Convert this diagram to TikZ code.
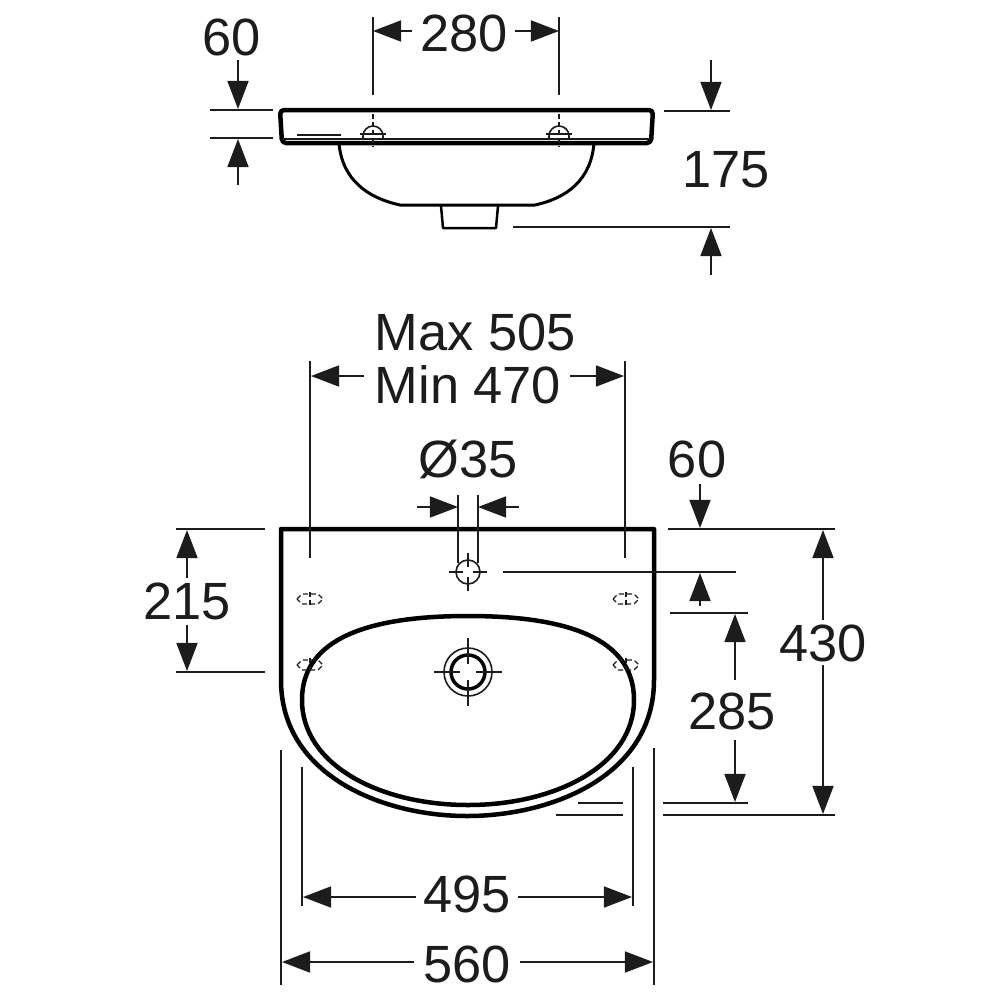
\documentclass[tikz,border=0pt]{standalone}
\usepackage{xcolor}
\usepackage{fontspec}
\setmainfont{Liberation Sans}
\usetikzlibrary{arrows.meta}
\definecolor{ink}{HTML}{1C1C1C}
\tikzset{
	>={Triangle[length=0.28cm,width=0.21cm]},
	outline/.style = {draw=black, line width=0.045cm, line join=round},
	extline/.style = {draw=ink, line width=0.016cm},
	dimline/.style = {draw=ink, line width=0.016cm, ->},
	hidden/.style = {draw=ink, line width=0.012cm, dash pattern=on 0.05cm off 0.03cm},
	dimtext/.style = {inner sep=0.05cm, text=ink, font=\fontsize{14.9}{17}\selectfont},
}
\begin{document}
\begin{tikzpicture}[x=0.01cm,y=-0.01cm]
        \useasboundingbox (0,0) rectangle (1000,1000);
        % side view
        \draw[outline, rounded corners=0.04cm] (280,110) -- (653,110) -- (651,143) -- (282,143) -- cycle;
        \draw[outline, line width=0.03cm] (339,143) .. controls (342,180) and (368,198) .. (400,205) -- (535,205) .. controls (567,198) and (591,180) .. (594,143);
        \draw[outline, line width=0.025cm] (441,206) -- (443,228) -- (496,228) -- (498,206);
        \draw[extline] (283,139) -- (650,139);
        \draw[extline] (297,135) -- (341,135);
        \draw[extline] (363,139) -- (363,136) arc (180:360:10) -- (383,139);
        \draw[extline] (549,139) -- (549,136) arc (180:360:10) -- (569,139);
        \draw[extline] (360,134) -- (386,134);
        \draw[extline] (546,134) -- (572,134);
        \draw[hidden] (373,114) -- (373,147);
        \draw[hidden] (559,114) -- (559,147);
        % side view dimensions
        \draw[extline] (373,17) -- (373,95);
        \draw[extline] (559,17) -- (559,95);
        \node[dimtext] (w280) at (464,33) {280};
        \coordinate (w280l) at (373,31);
        \coordinate (w280r) at (559,31);
        \coordinate (w280la) at (412,31);
        \coordinate (w280ra) at (515,31);
        \draw[dimline] (w280la) -- (w280l);
        \draw[dimline] (w280ra) -- (w280r);
        \draw[extline] (210,110) -- (273,110);
        \draw[extline] (210,138) -- (273,138);
        \node[dimtext] (h60) at (232,37) {60};
        \coordinate (h60a) at (238,60);
        \coordinate (h60b) at (238,109);
        \coordinate (h60c) at (238,185);
        \coordinate (h60d) at (238,139);
        \draw[dimline] (h60a) -- (h60b);
        \draw[dimline] (h60c) -- (h60d);
        \draw[extline] (664,111) -- (730,111);
        \draw[extline] (513,227) -- (730,227);
        \node[dimtext] (h175) at (726,170) {175};
        \coordinate (h175a) at (711,60);
        \coordinate (h175b) at (711,110);
        \coordinate (h175c) at (711,275);
        \coordinate (h175d) at (711,228);
        \draw[dimline] (h175a) -- (h175b);
        \draw[dimline] (h175c) -- (h175d);
        % plan view
        \draw[outline] (281,529) -- (654,529) -- (654,680) .. controls (654,775) and (553,816) .. (467,816) .. controls (382,816) and (281,775) .. (281,680) -- cycle;
        \draw[outline] (468,616) .. controls (581,616) and (634,645) .. (634,700) .. controls (634,765) and (556,805) .. (468,805) .. controls (380,805) and (302,765) .. (302,700) .. controls (302,645) and (355,616) .. (468,616) -- cycle;
        \draw[extline] (468,572) circle (12);
        \draw[extline] (449,572) -- (463,572) (473,572) -- (487,572) (468,553) -- (468,567) (468,577) -- (468,591);
        \draw[outline, line width=0.035cm] (468,672) circle (17);
        \draw[extline] (468,672) circle (24);
        \draw[extline] (434,672) -- (460,672) (476,672) -- (502,672) (468,638) -- (468,664) (468,680) -- (468,706);
        \foreach \px/\py in {310/599, 626/599, 310/665, 626/665}{
          \begin{scope}[shift={(\px,\py)}]
            \draw[hidden] (-13,0) -- (-8,-5) -- (8,-5) -- (13,0) -- (8,5) -- (-8,5) -- cycle;
            \draw[hidden] (0,-7) -- (0,7);
          \end{scope}
        }
        % plan view dimensions
        \draw[extline] (310,361) -- (310,558);
        \draw[extline] (625,361) -- (625,558);
        \node[dimtext] (tmax) at (475,332) {Max 505};
        \node[dimtext] (tmin) at (468,385) {Min 470};
        \coordinate (tminl) at (311,376);
        \coordinate (tminr) at (624,376);
        \coordinate (tminla) at (364,376);
        \coordinate (tminra) at (570,376);
        \draw[dimline] (tminla) -- (tminl);
        \draw[dimline] (tminra) -- (tminr);
        \node[dimtext] (dia) at (468,459) {Ø35};
        \draw[extline] (458,495) -- (458,563);
        \draw[extline] (478,495) -- (478,563);
        \coordinate (dial) at (458,507);
        \coordinate (diar) at (478,507);
        \coordinate (diala) at (417,507);
        \coordinate (diara) at (519,507);
        \draw[dimline] (diala) -- (dial);
        \draw[dimline] (diara) -- (diar);
        \draw[extline] (668,529) -- (835,529);
        \draw[extline] (503,572) -- (736,572);
        \draw[extline] (670,613) -- (748,613);
        \draw[extline] (663,803) -- (748,803);
        \draw[extline] (663,815) -- (835,815);
        \draw[extline] (578,803) -- (623,803);
        \draw[extline] (556,815) -- (623,815);
        \node[dimtext] (t60) at (697,459) {60};
        \coordinate (t60a) at (700,484);
        \coordinate (t60b) at (700,528);
        \coordinate (t60c) at (700,606);
        \coordinate (t60d) at (700,573);
        \draw[dimline] (t60a) -- (t60b);
        \draw[dimline] (t60c) -- (t60d);
        \node[dimtext] (t285) at (732,711) {285};
        \coordinate (t285a) at (735,680);
        \coordinate (t285b) at (735,614);
        \coordinate (t285c) at (735,740);
        \coordinate (t285d) at (735,802);
        \draw[dimline] (t285a) -- (t285b);
        \draw[dimline] (t285c) -- (t285d);
        \node[dimtext] (t430) at (823,643) {430};
        \coordinate (t430a) at (823,620);
        \coordinate (t430b) at (823,530);
        \coordinate (t430c) at (823,665);
        \coordinate (t430d) at (823,814);
        \draw[dimline] (t430a) -- (t430b);
        \draw[dimline] (t430c) -- (t430d);
        \draw[extline] (176,529) -- (265,529);
        \draw[extline] (176,672) -- (265,672);
        \node[dimtext] (t215) at (187,601) {215};
        \coordinate (t215a) at (187,578);
        \coordinate (t215b) at (187,530);
        \coordinate (t215c) at (187,625);
        \coordinate (t215d) at (187,671);
        \draw[dimline] (t215a) -- (t215b);
        \draw[dimline] (t215c) -- (t215d);
        \draw[extline] (302,767) -- (302,906);
        \draw[extline] (633,767) -- (633,906);
        \draw[extline] (281,750) -- (281,985);
        \draw[extline] (654,748) -- (654,985);
        \node[dimtext] (t495) at (467,894) {495};
        \coordinate (t495l) at (303,897);
        \coordinate (t495r) at (632,897);
        \coordinate (t495la) at (416,897);
        \coordinate (t495ra) at (518,897);
        \draw[dimline] (t495la) -- (t495l);
        \draw[dimline] (t495ra) -- (t495r);
        \node[dimtext] (t560) at (467,964) {560};
        \coordinate (t560l) at (282,962);
        \coordinate (t560r) at (653,962);
        \coordinate (t560la) at (414,962);
        \coordinate (t560ra) at (520,962);
        \draw[dimline] (t560la) -- (t560l);
        \draw[dimline] (t560ra) -- (t560r);
      \end{tikzpicture}
\end{document}
